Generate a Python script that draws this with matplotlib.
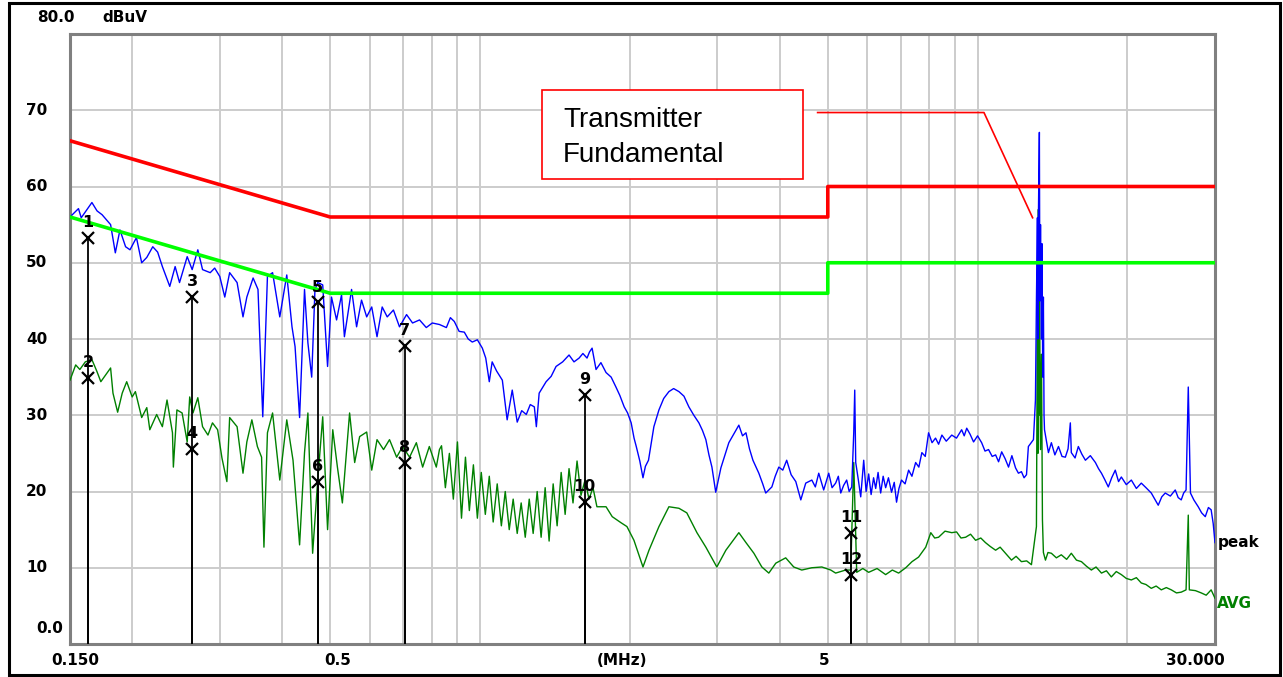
import matplotlib
matplotlib.use("Agg")
import matplotlib.pyplot as plt
from matplotlib.patches import Rectangle
from matplotlib.ticker import LogLocator, NullFormatter

# peak detector trace (MHz, dBuV)
peak_freq = [
    0.150, 0.156, 0.158, 0.166, 0.170, 0.174, 0.181, 0.185, 0.189, 0.194,
    0.198, 0.204, 0.209, 0.214, 0.220, 0.225, 0.230, 0.238, 0.244, 0.249,
    0.258, 0.264, 0.271, 0.277, 0.287, 0.293, 0.300, 0.307, 0.314, 0.325,
    0.334, 0.340, 0.350, 0.358, 0.366, 0.374, 0.383, 0.396, 0.409, 0.419,
    0.425, 0.434, 0.444, 0.451, 0.459, 0.466, 0.472, 0.483, 0.494, 0.503,
    0.515, 0.527, 0.534, 0.552, 0.565, 0.578, 0.592, 0.606, 0.621, 0.636,
    0.651, 0.670, 0.689, 0.712, 0.732, 0.756, 0.780, 0.802, 0.829, 0.856,
    0.872, 0.888, 0.908, 0.930, 0.947, 0.965, 0.988, 1.011, 1.027, 1.044,
    1.058, 1.080, 1.109, 1.134, 1.161, 1.188, 1.213, 1.239, 1.262, 1.286,
    1.298, 1.315, 1.358, 1.390, 1.422, 1.466, 1.510, 1.545, 1.582, 1.610,
    1.641, 1.660, 1.680, 1.711, 1.750, 1.792, 1.835, 1.876, 1.910, 1.949,
    1.980, 2.013, 2.040, 2.061, 2.095, 2.126, 2.150, 2.181, 2.236, 2.289,
    2.340, 2.397, 2.450, 2.511, 2.570, 2.629, 2.690, 2.754, 2.800, 2.844,
    2.885, 2.925, 2.977, 3.049, 3.100, 3.163, 3.240, 3.313, 3.370, 3.424,
    3.480, 3.536, 3.634, 3.700, 3.752, 3.860, 3.920, 3.986, 4.060, 4.134,
    4.220, 4.312, 4.413, 4.515, 4.644, 4.720, 4.795, 4.906, 5.022, 5.100,
    5.185, 5.250, 5.309, 5.380, 5.457, 5.520, 5.586, 5.638, 5.664, 5.690,
    5.760, 5.823, 5.904, 5.970, 6.041, 6.110, 6.180, 6.241, 6.310, 6.386,
    6.460, 6.535, 6.620, 6.716, 6.800, 6.873, 6.950, 7.033, 7.150, 7.268,
    7.380, 7.508, 7.620, 7.727, 7.850, 7.971, 8.100, 8.232, 8.350, 8.478,
    8.650, 8.874, 9.070, 9.289, 9.400, 9.510, 9.660, 9.816, 10.00, 10.19,
    10.35, 10.52, 10.70, 10.87, 11.02, 11.18, 11.36, 11.54, 11.72, 11.92,
    12.08, 12.25, 12.40, 12.54, 12.65, 12.95, 13.07, 13.13, 13.19, 13.22,
    13.25, 13.31, 13.34, 13.38, 13.44, 13.47, 13.52, 13.56, 13.60, 13.63,
    13.88, 14.07, 14.30, 14.54, 14.78, 15.01, 15.20, 15.36, 15.43, 15.70,
    15.94, 16.20, 16.47, 16.85, 17.25, 17.50, 17.74, 18.00, 18.31, 18.60,
    18.91, 19.20, 19.45, 19.90, 20.37, 20.85, 21.33, 21.80, 22.34, 22.70,
    23.07, 23.45, 23.83, 24.40, 24.96, 25.30, 25.66, 25.95, 26.24, 26.51,
    26.78, 27.20, 27.76, 28.20, 28.68, 29.10, 29.47, 29.75, 30.00,
]
peak_dbuv = [
    56.0, 57.1, 55.9, 57.9, 56.8, 56.3, 55.0, 51.3, 54.3, 52.1,
    51.7, 53.3, 50.0, 50.7, 52.1, 51.4, 49.5, 46.9, 49.5, 47.4,
    50.8, 49.1, 51.7, 49.1, 48.7, 49.3, 48.2, 45.5, 48.7, 47.4,
    42.9, 45.5, 48.0, 46.5, 29.8, 48.2, 48.7, 42.9, 48.4, 41.6,
    39.0, 29.7, 46.5, 39.5, 35.0, 46.5, 47.4, 47.1, 36.4, 45.5,
    42.5, 45.8, 40.3, 46.5, 41.6, 45.1, 42.9, 44.2, 40.3, 44.2,
    42.9, 43.8, 41.6, 43.2, 42.1, 42.5, 41.5, 42.1, 41.9, 41.5,
    42.8, 42.3, 41.0, 40.9, 40.0, 39.6, 39.9, 38.8, 37.5, 34.4,
    37.0, 35.8, 34.6, 29.4, 33.3, 29.1, 30.6, 30.1, 31.4, 31.1,
    28.5, 32.9, 34.4, 35.1, 36.4, 37.0, 37.9, 37.0, 37.5, 38.1,
    37.5, 38.3, 38.8, 36.0, 36.9, 35.6, 35.0, 33.7, 32.6, 31.1,
    30.3, 29.0, 27.0, 25.9, 24.0, 21.8, 23.3, 24.1, 28.5, 30.7,
    32.2, 33.1, 33.5, 33.1, 32.5, 31.1, 30.0, 29.0, 28.0, 26.8,
    24.8, 23.2, 19.9, 23.1, 24.6, 26.4, 27.6, 28.7, 27.3, 27.7,
    25.6, 24.1, 22.4, 21.0, 19.8, 20.6, 22.0, 23.2, 22.8, 24.1,
    22.2, 21.3, 18.9, 21.1, 21.5, 20.6, 22.4, 20.2, 22.4, 20.5,
    21.1, 22.0, 19.8, 20.8, 21.5, 20.0, 20.6, 27.7, 33.3, 23.8,
    21.5, 19.3, 24.1, 20.0, 22.3, 19.6, 21.8, 20.4, 22.5, 19.8,
    22.0, 20.5, 21.8, 19.9, 21.2, 18.6, 20.4, 21.5, 21.0, 22.8,
    22.0, 23.8, 23.2, 25.1, 24.6, 27.7, 26.4, 27.0, 26.2, 27.4,
    26.6, 27.4, 27.0, 28.1, 27.3, 28.3, 27.5, 26.5, 27.3, 26.4,
    25.3, 25.5, 24.6, 24.8, 23.9, 25.2, 24.3, 23.2, 24.7, 23.1,
    22.4, 22.6, 21.8, 22.2, 25.9, 26.8, 32.0, 45.0, 55.9, 40.0,
    56.0, 67.1, 45.0, 55.0, 40.0, 52.5, 35.0, 45.5, 30.0, 28.1,
    25.1, 26.4, 24.8, 25.9, 24.6, 24.5, 25.6, 29.0, 25.1, 24.4,
    25.9, 24.9, 24.1, 24.7, 23.8, 23.0, 22.4, 21.6, 20.6, 21.8,
    22.8, 21.3, 21.9, 20.9, 21.5, 20.4, 21.1, 20.5, 19.8, 19.0,
    18.2, 19.3, 19.8, 19.4, 20.2, 19.2, 18.9, 19.8, 20.2, 33.7,
    19.8, 18.9, 18.0, 17.2, 16.7, 17.9, 17.6, 15.8, 13.3,
]

# average detector trace (MHz, dBuV)
avg_freq = [
    0.150, 0.154, 0.157, 0.161, 0.166, 0.170, 0.173, 0.181, 0.183, 0.187,
    0.191, 0.195, 0.200, 0.203, 0.209, 0.214, 0.217, 0.224, 0.230, 0.235,
    0.241, 0.242, 0.246, 0.252, 0.258, 0.261, 0.265, 0.271, 0.277, 0.284,
    0.290, 0.297, 0.303, 0.310, 0.314, 0.325, 0.334, 0.340, 0.348, 0.357,
    0.364, 0.368, 0.374, 0.383, 0.396, 0.409, 0.421, 0.434, 0.444, 0.451,
    0.461, 0.472, 0.483, 0.494, 0.506, 0.517, 0.529, 0.547, 0.560, 0.573,
    0.592, 0.606, 0.621, 0.640, 0.658, 0.680, 0.699, 0.722, 0.745, 0.767,
    0.791, 0.817, 0.829, 0.837, 0.852, 0.868, 0.884, 0.901, 0.918, 0.935,
    0.952, 0.970, 0.988, 1.006, 1.025, 1.044, 1.063, 1.083, 1.104, 1.124,
    1.145, 1.166, 1.188, 1.210, 1.233, 1.256, 1.279, 1.303, 1.327, 1.352,
    1.377, 1.403, 1.429, 1.456, 1.483, 1.510, 1.538, 1.567, 1.596, 1.626,
    1.656, 1.687, 1.718, 1.792, 1.844, 1.921, 1.974, 2.039, 2.126, 2.186,
    2.289, 2.397, 2.511, 2.604, 2.729, 2.844, 2.992, 3.120, 3.313, 3.424,
    3.552, 3.685, 3.806, 3.931, 4.115, 4.271, 4.433, 4.644, 4.864, 5.069,
    5.185, 5.430, 5.560, 5.638, 5.716, 5.880, 6.041, 6.280, 6.535, 6.740,
    6.939, 7.172, 7.383, 7.611, 7.867, 8.053, 8.200, 8.348, 8.600, 8.874,
    9.073, 9.260, 9.460, 9.680, 9.909, 10.15, 10.37, 10.60, 10.87, 11.10,
    11.38, 11.70, 11.95, 12.25, 12.55, 12.83, 13.13, 13.19, 13.22, 13.25,
    13.28, 13.31, 13.38, 13.44, 13.50, 13.56, 13.69, 13.85, 14.07, 14.40,
    14.73, 15.10, 15.43, 15.80, 16.17, 16.55, 16.93, 17.30, 17.74, 18.15,
    18.57, 19.00, 19.45, 19.90, 20.37, 20.85, 21.33, 21.80, 22.34, 22.85,
    23.40, 23.95, 24.51, 25.10, 25.66, 26.24, 26.51, 26.64, 27.40, 28.15,
    28.80, 29.47, 30.00,
]
avg_dbuv = [
    34.6, 36.6, 36.0, 37.0, 37.3, 35.7, 34.4, 36.2, 32.9, 30.4,
    32.9, 34.4, 32.4, 33.1, 29.7, 31.0, 28.1, 30.1, 28.5, 32.0,
    27.7, 23.2, 30.7, 30.3, 26.5, 32.4, 30.3, 32.3, 28.5, 27.4,
    29.0, 28.1, 24.4, 21.3, 29.7, 28.5, 22.4, 26.5, 29.4, 25.9,
    24.5, 12.7, 27.7, 30.3, 21.5, 29.4, 24.1, 13.0, 25.1, 30.3,
    11.9, 21.5, 29.8, 15.0, 28.1, 23.2, 18.5, 30.3, 23.8, 27.2,
    27.8, 22.8, 26.8, 25.5, 26.8, 24.5, 25.9, 24.5, 26.4, 23.2,
    25.9, 23.2, 25.5, 26.0, 20.5, 25.0, 19.0, 26.5, 16.5, 24.5,
    17.5, 23.5, 16.5, 22.5, 17.0, 22.0, 16.0, 21.0, 15.5, 20.0,
    15.0, 19.0, 14.5, 18.5, 14.0, 19.0, 14.5, 20.0, 14.0, 20.5,
    13.5, 21.0, 15.5, 22.5, 17.0, 23.0, 18.5, 24.0, 19.5, 21.5,
    19.0, 20.5, 18.0, 18.0, 16.7, 15.9, 15.4, 13.6, 10.1, 12.3,
    15.4, 18.0, 17.8, 17.2, 14.6, 12.7, 10.1, 12.3, 14.6, 13.3,
    11.9, 10.1, 9.3, 10.6, 11.3, 10.1, 9.7, 10.0, 10.1, 9.7,
    9.3, 9.7, 9.7, 23.8, 9.4, 9.9, 9.4, 9.9, 9.1, 9.7,
    9.3, 10.0, 10.8, 11.4, 12.7, 14.6, 13.9, 14.0, 14.8, 14.6,
    14.7, 13.9, 14.0, 14.4, 13.6, 13.9, 13.3, 12.8, 12.3, 12.7,
    11.9, 11.0, 11.5, 10.8, 10.9, 10.4, 15.4, 45.0, 25.0, 57.0,
    30.0, 50.0, 25.5, 38.0, 16.3, 12.0, 11.0, 12.0, 11.9, 11.3,
    11.7, 11.1, 11.9, 11.0, 10.8, 10.2, 9.7, 10.1, 9.3, 9.6,
    8.8, 9.5, 9.1, 8.6, 8.4, 8.7, 8.0, 7.8, 7.3, 7.6,
    7.1, 7.4, 7.1, 6.7, 6.8, 7.1, 16.9, 7.1, 7.0, 6.7,
    6.4, 7.1, 6.0,
]

# limit lines
limit_freq = [0.15, 0.5, 5.0, 5.0, 30.0]
qp_limit = [66, 56, 56, 60, 60]
avg_limit = [56, 46, 46, 50, 50]

# marker readings
marker_ids = ["1", "2", "3", "4", "5", "6", "7", "8", "9", "10", "11", "12"]
marker_freq = [0.163, 0.163, 0.264, 0.264, 0.472, 0.472,
               0.706, 0.706, 1.623, 1.623, 5.577, 5.577]
marker_dbuv = [53.3, 34.9, 45.5, 25.6, 44.8, 21.3,
               39.1, 23.8, 32.7, 18.6, 14.6, 9.1]

x_labels = ["0.150", "0.5", "(MHz)", "5", "30.000"]
x_label_pos = [0.005, 0.234, 0.482, 0.6585, 0.9825]
y_labels = ["10", "20", "30", "40", "50", "60", "70"]
y_label_vals = [10, 20, 30, 40, 50, 60, 70]


def main():
    fig = plt.figure(figsize=(12.83, 6.77), dpi=100)
    fig.patch.set_facecolor("white")
    ax = fig.add_axes([70 / 1283, 33 / 677, 1145 / 1283, 610 / 677])

    ax.set_xscale("log")
    ax.set_xlim(0.15, 30)
    ax.set_ylim(0, 80)

    ax.xaxis.set_major_locator(LogLocator(base=10, subs=range(1, 10)))
    ax.xaxis.set_minor_locator(LogLocator(base=10, subs=[]))
    ax.xaxis.set_major_formatter(NullFormatter())
    ax.set_yticks(range(10, 80, 10))
    ax.set_yticklabels([])
    ax.tick_params(length=0)
    ax.grid(True, color="#cccccc", linewidth=1.4)
    for sp in ax.spines.values():
        sp.set_color("#808080")
        sp.set_linewidth(2.2)

    # spectrum traces
    ax.plot(avg_freq, avg_dbuv, color="#008000", linewidth=1.0, zorder=3)
    ax.plot(peak_freq, peak_dbuv, color="#0000ff", linewidth=1.0, zorder=3)

    # limit lines
    ax.plot(limit_freq, qp_limit, color="#ff0000", linewidth=2.6, zorder=4)
    ax.plot(limit_freq, avg_limit, color="#00ff00", linewidth=2.6, zorder=4)

    # markers
    ax.vlines(marker_freq, 0, marker_dbuv, color="black", linewidth=1.3,
              zorder=5)
    ax.plot(marker_freq, marker_dbuv, linestyle="none", marker="x",
            markersize=9, markeredgewidth=1.6, color="black", zorder=6)
    for mid, f, v in zip(marker_ids, marker_freq, marker_dbuv):
        ax.text(f, v + 2.0, mid, ha="center", va="center", fontsize=11.5,
                fontweight="bold", zorder=6)

    # axis labels
    ytr = ax.get_yaxis_transform()
    for lab, v in zip(y_labels, y_label_vals):
        ax.text(-0.020, v, lab, transform=ytr, ha="right", va="center",
                fontsize=11, fontweight="bold")
    ax.text(-0.006, 2.0, "0.0", transform=ytr, ha="right", va="center",
            fontsize=11, fontweight="bold")
    ax.text(0.004, 82.1, "80.0", transform=ytr, ha="right", va="center",
            fontsize=11, fontweight="bold")
    ax.text(0.028, 82.1, "dBuV", transform=ytr, ha="left", va="center",
            fontsize=11, fontweight="bold")
    for lab, pos in zip(x_labels, x_label_pos):
        ax.text(pos, -0.027, lab, transform=ax.transAxes, ha="center",
                va="center", fontsize=11, fontweight="bold")

    ax.text(1.002, 13.3, "peak", transform=ytr, ha="left", va="center",
            fontsize=11, fontweight="bold", color="black")
    ax.text(1.002, 5.3, "AVG", transform=ytr, ha="left", va="center",
            fontsize=11, fontweight="bold", color="#008000")

    # callout for the carrier
    ax.add_patch(Rectangle((0.412, 0.762), 0.228, 0.146,
                           transform=ax.transAxes, facecolor="white",
                           edgecolor="#ff0000", linewidth=1.2, zorder=7))
    ax.text(0.4306, 0.8475, "Transmitter", transform=ax.transAxes,
            ha="left", va="baseline", fontsize=20, family="Liberation Sans",
            zorder=8)
    ax.text(0.4306, 0.790, "Fundamental", transform=ax.transAxes,
            ha="left", va="baseline", fontsize=20, family="Liberation Sans",
            zorder=8)
    ax.plot([4.77, 10.3, 12.9], [69.7, 69.7, 55.9], color="#ff0000",
            linewidth=1.2, zorder=7)

    # outer frame
    fig.patches.append(Rectangle((9 / 1283, 2 / 677), 1271 / 1283,
                                 672 / 677, transform=fig.transFigure,
                                 fill=False, edgecolor="black",
                                 linewidth=2.2))

    fig.savefig("out.png", dpi=100)


if __name__ == "__main__":
    main()
